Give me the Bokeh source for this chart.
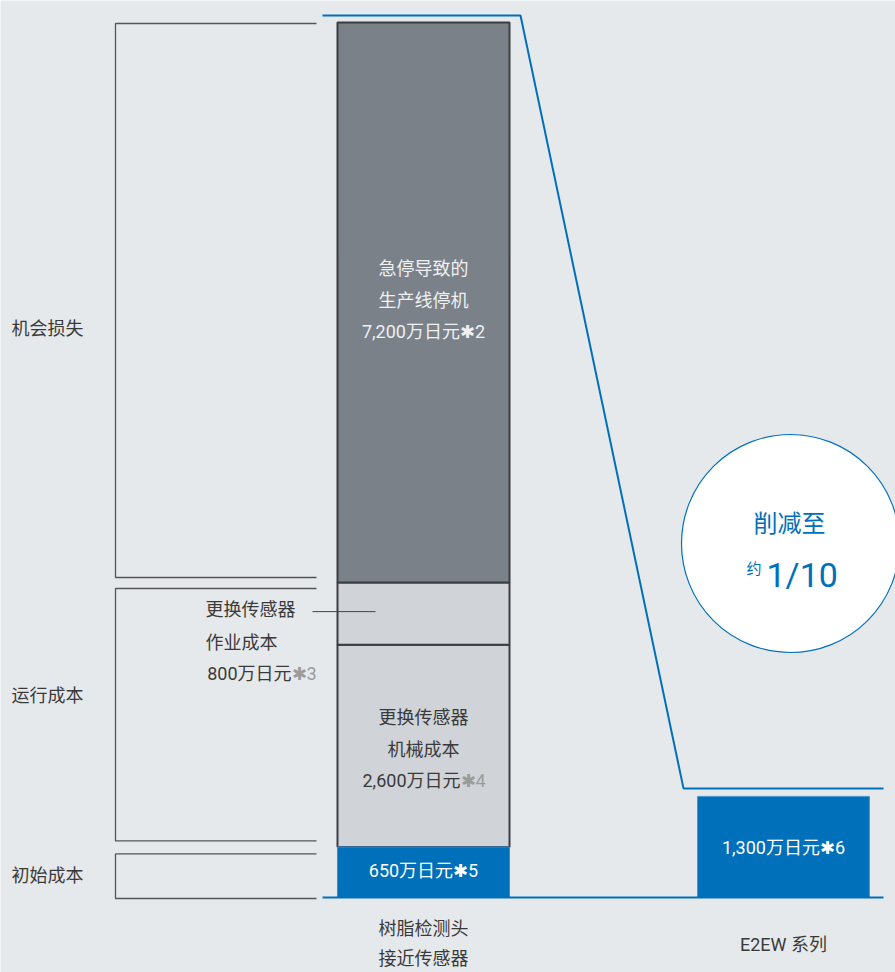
import numpy as np
from bokeh.plotting import figure
from bokeh.models import Range1d
from bokeh.core.properties import value
from bokeh.embed import file_html
from bokeh.resources import INLINE

# ---------------- data (万日元) ----------------
left_segments = ["初始成本", "更换传感器机械成本", "更换传感器作业成本", "急停导致的生产线停机"]
left_values = [650, 2600, 800, 7200]
right_values = [1300]
left_bar_lines = ["树脂检测头", "接近传感器"]
right_bar_label = "E2EW 系列"
group_labels = ["机会损失", "运行成本", "初始成本"]
stop_lines = ["急停导致的", "生产线停机", "7,200万日元✱2"]
work_lines = ["更换传感器", "作业成本", "800万日元", "✱3"]
mech_lines = ["更换传感器", "机械成本", "2,600万日元", "✱4"]
init_label = "650万日元✱5"
right_label = "1,300万日元✱6"
circle_lines = ["削减至", "约", "1/10"]

# ---------------- layout ----------------
BG = "#e6e9ec"
BLUE = "#0070bb"
DARK = "#7b8189"
LIGHT = "#d0d4d8"
EDGE = "#3b3d40"
TXT = "#3a3a3a"
GREY_NOTE = "#9b9b9b"
FONT = value("Roboto, Noto Sans CJK SC")
FS = "18px"

W, H = 895, 972
total = float(np.sum(left_values))
PX_BASE, PX_TOP = 897, 22          # pixels of baseline and left-bar top
k = total / (PX_BASE - PX_TOP)      # value units per pixel
TEXT_SHIFT = -2                     # small vertical correction for text (px)


def yv(val, dpx=0.0):
    """value position shifted by dpx screen pixels (positive = down)"""
    return val - dpx * k


def ty(val, dpx=0.0):
    return yv(val, dpx + TEXT_SHIFT)


p = figure(width=W, height=H, output_backend="svg", toolbar_location=None,
           x_range=Range1d(0, W),
           y_range=Range1d((PX_BASE - H) * k, PX_BASE * k),
           x_axis_location=None, y_axis_location=None, min_border=0)
p.grid.visible = False
p.outline_line_color = None
p.background_fill_color = BG
p.border_fill_color = BG

XL, XR, BW = 423, 783, 172

# ---------------- stacked left bar ----------------
tops = np.cumsum(left_values)
bottoms = tops - np.array(left_values)
fills = [BLUE, LIGHT, LIGHT, DARK]
p.vbar(x=[XL] * 3, width=BW, bottom=list(bottoms[1:]), top=list(tops[1:]),
       fill_color=fills[1:], line_color=EDGE, line_width=2)
p.vbar(x=[XL], width=BW, bottom=[bottoms[0]], top=[tops[0]],
       fill_color=BLUE, line_color="#3d8ccc", line_width=1)
# right bar
p.vbar(x=[XR], width=BW, bottom=[0], top=[right_values[0]],
       fill_color=BLUE, line_color="#4a96d2", line_width=1)

# ---------------- blue outline lines ----------------
p.line(x=[322, 883], y=[0, 0], line_color=BLUE, line_width=2)
p.line(x=[322, 520, 683, 883],
       y=[yv(total, -7), yv(total, -7), yv(right_values[0], -8), yv(right_values[0], -8)],
       line_color=BLUE, line_width=2)

# ---------------- left brackets ----------------
BX0, BX1 = 115, 316
brackets = [
    (yv(tops[3], 1), yv(bottoms[3], -5)),
    (yv(tops[2], 6), yv(bottoms[1], -6)),
    (yv(tops[0], 7), yv(0, 1)),
]
for (bt, bb) in brackets:
    p.line(x=[BX1, BX0, BX0, BX1], y=[bt, bt, bb, bb], line_color="#555555", line_width=1.3)

group_y = [ty((tops[3] + bottoms[3]) / 2, 28),
           ty((tops[2] + bottoms[1]) / 2, -17),
           ty((tops[0] + bottoms[0]) / 2, 5)]
p.text(x=[11] * 3, y=group_y, text=group_labels, text_font=FONT, text_font_size=FS,
       text_color=TXT, text_align="left", text_baseline="middle")

# ---------------- bar texts ----------------
mid = (tops + bottoms) / 2
p.text(x=[XL] * 3, y=[ty(mid[3], -32), ty(mid[3], 0), ty(mid[3], 31)], text=stop_lines,
       text_font=FONT, text_font_size=FS, text_color="#eef0f2",
       text_align="center", text_baseline="middle")
p.text(x=[XL, XL], y=[ty(mid[1], -26), ty(mid[1], 6)], text=mech_lines[:2],
       text_font=FONT, text_font_size=FS, text_color=TXT,
       text_align="center", text_baseline="middle")
p.text(x=[460], y=[ty(mid[1], 37)], text=[mech_lines[2]], text_font=FONT, text_font_size=FS,
       text_color=TXT, text_align="right", text_baseline="middle")
p.text(x=[460], y=[ty(mid[1], 37)], text=[mech_lines[3]], text_font=FONT, text_font_size=FS,
       text_color=GREY_NOTE, text_align="left", text_baseline="middle")
p.text(x=[205, 205], y=[ty(mid[2], -2), ty(mid[2], 31)], text=work_lines[:2],
       text_font=FONT, text_font_size=FS, text_color=TXT,
       text_align="left", text_baseline="middle")
p.text(x=[291], y=[ty(mid[2], 62)], text=[work_lines[2]], text_font=FONT, text_font_size=FS,
       text_color=TXT, text_align="right", text_baseline="middle")
p.text(x=[291], y=[ty(mid[2], 62)], text=[work_lines[3]], text_font=FONT, text_font_size=FS,
       text_color=GREY_NOTE, text_align="left", text_baseline="middle")
p.line(x=[312, 375], y=[yv(mid[2], -2), yv(mid[2], -2)], line_color="#444444", line_width=1)
p.text(x=[XL], y=[ty(mid[0])], text=[init_label], text_font=FONT, text_font_size=FS,
       text_color="white", text_align="center", text_baseline="middle")
p.text(x=[XR], y=[ty(right_values[0] / 2, 3)], text=[right_label], text_font=FONT,
       text_font_size=FS, text_color="white", text_align="center", text_baseline="middle")

# ---------------- category labels ----------------
p.text(x=[XL, XL], y=[ty(0, 33), ty(0, 63)], text=left_bar_lines, text_font=FONT,
       text_font_size=FS, text_color=TXT, text_align="center", text_baseline="middle")
p.text(x=[XR], y=[ty(0, 49)], text=[right_bar_label], text_font=FONT,
       text_font_size=FS, text_color=TXT, text_align="center", text_baseline="middle")

# ---------------- circle ----------------
cy = yv(0, -354)
p.circle(x=[790], y=[cy], radius=109, radius_dimension="x",
         fill_color="white", line_color=BLUE, line_width=1.2)
p.text(x=[789], y=[ty(cy, -18)], text=[circle_lines[0]], text_font=FONT, text_font_size="24px",
       text_color=BLUE, text_align="center", text_baseline="middle")
p.text(x=[761], y=[ty(cy, 27)], text=[circle_lines[1]], text_font=FONT, text_font_size="15px",
       text_color=BLUE, text_align="right", text_baseline="middle")
p.text(x=[766], y=[ty(cy, 33)], text=[circle_lines[2]], text_font=FONT, text_font_size="34px",
       text_color=BLUE, text_align="left", text_baseline="middle")

html = file_html(p, INLINE)
html = html.replace("<body>", '<body style="background-color:%s;">' % BG, 1)
open("out.html", "w").write(html)
